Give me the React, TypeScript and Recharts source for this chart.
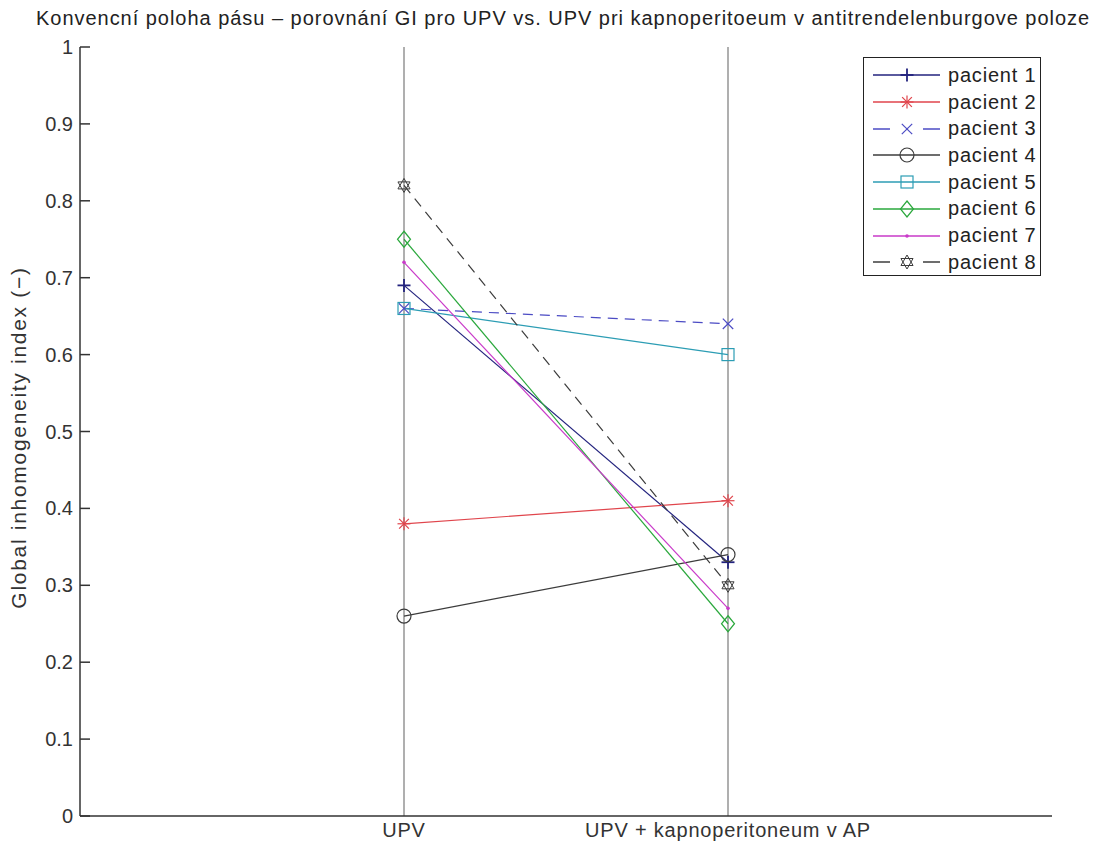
import React from 'react';
import {
  LineChart,
  Line,
  XAxis,
  YAxis,
  ReferenceLine,
  Label
} from 'recharts';

const categories = ['UPV', 'UPV + kapnoperitoneum v AP'];
const categoryX = [1, 2];
const patients = ['pacient 1', 'pacient 2', 'pacient 3', 'pacient 4', 'pacient 5', 'pacient 6', 'pacient 7', 'pacient 8'];
const upvValues = [0.69, 0.38, 0.66, 0.26, 0.66, 0.75, 0.72, 0.82];
const apValues = [0.33, 0.41, 0.64, 0.34, 0.6, 0.25, 0.27, 0.3];
const yTicks = [0, 0.1, 0.2, 0.3, 0.4, 0.5, 0.6, 0.7, 0.8, 0.9, 1];

const colors = ['#23237e', '#e0454c', '#4b4bc4', '#3c3c3c', '#2c9db4', '#2aa83c', '#c93ac9', '#3c3c3c'];
const markers = ['plus', 'star', 'cross', 'circle', 'square', 'diamond', 'point', 'hexagram'];
const dashed = [false, false, true, false, false, false, false, true];

const FONT = '"Liberation Sans", Arial, sans-serif';

const data = categoryX.map((x, i) => {
  const row: Record<string, number> = { x };
  patients.forEach((_, p) => {
    row['p' + p] = i === 0 ? upvValues[p] : apValues[p];
  });
  return row;
});

const Marker = ({ cx, cy, type, color }: { cx: number; cy: number; type: string; color: string }) => {
  const s = 6.5;
  const sw = 1.2;
  switch (type) {
    case 'plus':
      return (
        <g stroke={color} strokeWidth={1.8}>
          <line x1={cx - s} x2={cx + s} y1={cy} y2={cy} />
          <line x1={cx} x2={cx} y1={cy - s} y2={cy + s} />
        </g>
      );
    case 'star':
      return (
        <g stroke={color} strokeWidth={sw}>
          <line x1={cx - s} x2={cx + s} y1={cy} y2={cy} />
          <line x1={cx} x2={cx} y1={cy - s} y2={cy + s} />
          <line x1={cx - s * 0.75} x2={cx + s * 0.75} y1={cy - s * 0.75} y2={cy + s * 0.75} />
          <line x1={cx - s * 0.75} x2={cx + s * 0.75} y1={cy + s * 0.75} y2={cy - s * 0.75} />
        </g>
      );
    case 'cross':
      return (
        <g stroke={color} strokeWidth={sw}>
          <line x1={cx - s * 0.8} x2={cx + s * 0.8} y1={cy - s * 0.8} y2={cy + s * 0.8} />
          <line x1={cx - s * 0.8} x2={cx + s * 0.8} y1={cy + s * 0.8} y2={cy - s * 0.8} />
        </g>
      );
    case 'circle':
      return <circle cx={cx} cy={cy} r={7} fill="none" stroke={color} strokeWidth={sw} />;
    case 'square':
      return <rect x={cx - 6} y={cy - 6} width={12} height={12} fill="none" stroke={color} strokeWidth={sw} />;
    case 'diamond':
      return (
        <polygon
          points={`${cx},${cy - 8} ${cx + 6.5},${cy} ${cx},${cy + 8} ${cx - 6.5},${cy}`}
          fill="none"
          stroke={color}
          strokeWidth={sw}
        />
      );
    case 'point':
      return <circle cx={cx} cy={cy} r={1.8} fill={color} />;
    case 'hexagram': {
      const r = 7;
      const t1 = [0, 1, 2].map((k) => {
        const a = (-90 + k * 120) * (Math.PI / 180);
        return `${cx + r * Math.cos(a)},${cy + r * Math.sin(a)}`;
      });
      const t2 = [0, 1, 2].map((k) => {
        const a = (90 + k * 120) * (Math.PI / 180);
        return `${cx + r * Math.cos(a)},${cy + r * Math.sin(a)}`;
      });
      return (
        <g fill="none" stroke={color} strokeWidth={1}>
          <polygon points={t1.join(' ')} />
          <polygon points={t2.join(' ')} />
        </g>
      );
    }
    default:
      return null;
  }
};

const YTick = (props: any) => {
  const { x, y, payload } = props;
  return (
    <g>
      <text
        x={x}
        y={y}
        textAnchor="end"
        dominantBaseline="central"
        fontFamily={FONT}
        fontSize={20}
        fill="#333"
      >
        {String(payload.value)}
      </text>
      <line x1={x + 7} x2={x + 17} y1={y} y2={y} stroke="#333" strokeWidth={1.5} />
    </g>
  );
};

const Legend = () => (
  <div
    style={{
      position: 'absolute',
      left: 863,
      top: 57,
      width: 178,
      height: 219,
      border: '1.5px solid #222',
      background: '#fff',
      boxSizing: 'border-box'
    }}
  >
    {patients.map((name, i) => (
      <div
        key={name}
        style={{
          position: 'absolute',
          left: 0,
          top: 4 + i * 26.7,
          height: 26.7,
          display: 'flex',
          alignItems: 'center'
        }}
      >
        <svg width={84} height={26} style={{ display: 'block' }}>
          {dashed[i] ? (
            <g stroke={colors[i]} strokeWidth={1.5}>
              <line x1={9} x2={26} y1={13} y2={13} />
              <line x1={59} x2={76} y1={13} y2={13} />
            </g>
          ) : (
            <line x1={9} x2={76} y1={13} y2={13} stroke={colors[i]} strokeWidth={1.3} />
          )}
          <Marker cx={43} cy={13} type={markers[i]} color={colors[i]} />
        </svg>
        <span
          style={{
            fontFamily: FONT,
            fontSize: 20,
            letterSpacing: 0.8,
            color: '#222',
            whiteSpace: 'nowrap'
          }}
        >
          {name}
        </span>
      </div>
    ))}
  </div>
);

export default function App() {
  return (
    <div style={{ position: 'absolute', left: 0, top: 0, width: 1094, height: 845, background: '#fff' }}>
      <div
        style={{
          position: 'absolute',
          left: 36,
          top: 7,
          fontFamily: FONT,
          fontSize: 20,
          letterSpacing: 0.97,
          color: '#222',
          whiteSpace: 'nowrap'
        }}
      >
        Konvencní poloha pásu – porovnání GI pro UPV vs. UPV pri kapnoperitoeum v antitrendelenburgove poloze
      </div>
      <LineChart
        width={1094}
        height={845}
        data={data}
        margin={{ top: 47, right: 42, bottom: 0, left: 0 }}
      >
        <XAxis
          dataKey="x"
          type="number"
          domain={[0, 3]}
          ticks={categoryX}
          tickFormatter={(v: number) => categories[categoryX.indexOf(v)] ?? ''}
          tickLine={false}
          tickSize={0}
          tickMargin={7}
          height={29}
          axisLine={{ stroke: '#333', strokeWidth: 1.5 }}
          tick={{ fontFamily: FONT, fontSize: 20, fill: '#333', letterSpacing: 0.8 }}
          interval={0}
        />
        <YAxis
          type="number"
          domain={[0, 1]}
          ticks={yTicks}
          width={80}
          tickLine={false}
          tickSize={0}
          tickMargin={7}
          axisLine={{ stroke: '#333', strokeWidth: 1.5 }}
          tick={<YTick />}
          interval={0}
        >
          <Label
            content={({ viewBox }: any) => {
              const cx = viewBox.x + 18;
              const cy = viewBox.y + viewBox.height / 2 + 6;
              return (
                <text
                  x={cx}
                  y={cy}
                  transform={`rotate(-90 ${cx} ${cy})`}
                  textAnchor="middle"
                  dominantBaseline="central"
                  fontFamily={FONT}
                  fontSize={21}
                  letterSpacing={1.7}
                  fill="#333"
                >
                  Global inhomogeneity index (−)
                </text>
              );
            }}
          />
        </YAxis>
        {categoryX.map((x) => (
          <ReferenceLine key={x} x={x} stroke="#7a7a7a" strokeWidth={1.2} />
        ))}
        {patients.map((name, i) => (
          <Line
            key={name}
            dataKey={'p' + i}
            name={name}
            type="linear"
            stroke={colors[i]}
            strokeWidth={1.2}
            strokeDasharray={dashed[i] ? '10 7' : undefined}
            isAnimationActive={false}
            dot={(p: any) => (
              <Marker key={p.index} cx={p.cx} cy={p.cy} type={markers[i]} color={colors[i]} />
            )}
            activeDot={false}
          />
        ))}
      </LineChart>
      <Legend />
    </div>
  );
}
